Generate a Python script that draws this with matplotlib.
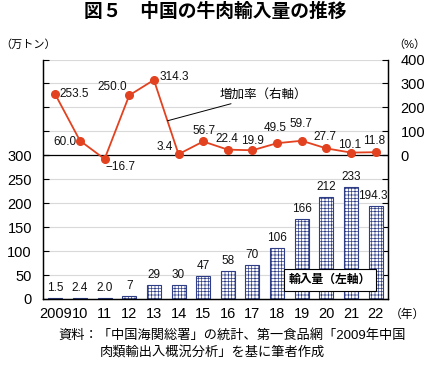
import matplotlib
matplotlib.use('Agg')
import matplotlib.pyplot as plt
import numpy as np

plt.rcParams['font.family'] = ['Liberation Sans', 'Noto Sans CJK JP']
plt.rcParams['hatch.linewidth'] = 0.5

# data
years = ['2009', '10', '11', '12', '13', '14', '15', '16', '17', '18', '19', '20', '21', '22']
imports = [1.5, 2.4, 2.0, 7, 29, 30, 47, 58, 70, 106, 166, 212, 233, 194.3]
import_labels = ['1.5', '2.4', '2.0', '7', '29', '30', '47', '58', '70', '106', '166', '212', '233', '194.3']
growth = [253.5, 60.0, -16.7, 250.0, 314.3, 3.4, 56.7, 22.4, 19.9, 49.5, 59.7, 27.7, 10.1, 11.8]
growth_labels = ['253.5', '60.0', '\u221216.7', '250.0', '314.3', '3.4', '56.7', '22.4', '19.9',
                 '49.5', '59.7', '27.7', '10.1', '11.8']
left_ticks = [0, 50, 100, 150, 200, 250, 300]
right_ticks = [0, 100, 200, 300, 400]

# label offsets in pixels (dx, dy, ha)
growth_offsets = [(4, 0, 'left'), (-3, -1, 'right'), (1, -8, 'left'), (-2, 8, 'right'),
                  (6, 3, 'left'), (-6, 7, 'right'), (1, 10, 'center'), (-1, 11, 'center'),
                  (0, 9, 'center'), (-2, 15, 'center'), (-1, 17, 'center'), (-1, 11, 'center'),
                  (-1, 8, 'center'), (-2, 11, 'center')]

W, H = 426, 368
fig = plt.figure(figsize=(W / 100, H / 100), dpi=100)
ax = fig.add_axes([43 / W, 1 - 299 / H, 345 / W, 239.5 / H])
ax2 = ax.twinx()

x = np.arange(len(years))
navy = '#2e3d86'
red = '#e2421f'
grid_c = '#d9d9d9'

ax.bar(x, imports, width=0.57, facecolor='white', edgecolor=navy, hatch='+++++', linewidth=0.8, zorder=2)
for xi, v, lab in zip(x, imports, import_labels):
    dx = -3 if lab == '194.3' else 0
    ax.annotate(lab, (xi, v), xytext=(dx, 4), textcoords='offset pixels',
                ha='center', va='bottom', fontsize=8.5, color='#111111')

ax.set_xlim(-0.5, len(years) - 0.5)
ax.set_ylim(0, 499)
ax.set_yticks(left_ticks)
ax.set_xticks(x)
ax.set_xticklabels(years)
for t in left_ticks[1:-1]:
    ax.axhline(t, color=grid_c, lw=0.8, zorder=0)

ax2.plot(x, growth, color=red, lw=1.3, marker='o', markersize=5.5, zorder=3)
for xi, v, lab, (dx, dy, ha) in zip(x, growth, growth_labels, growth_offsets):
    ax2.annotate(lab, (xi, v), xytext=(dx, dy), textcoords='offset pixels',
                 ha=ha, va='center', fontsize=8.5, color='#111111')
ax2.set_ylim(-603, 400)
ax2.set_yticks(right_ticks)
for t in right_ticks[1:]:
    ax2.axhline(t, color=grid_c, lw=0.8, zorder=0)
ax2.axhline(0, color='black', lw=0.9, zorder=1)

for a in (ax, ax2):
    a.spines['top'].set_visible(False)
    a.spines['left'].set_linewidth(0.9)
    a.spines['right'].set_linewidth(0.9)
    a.spines['bottom'].set_linewidth(0.9)
ax.tick_params(axis='y', direction='in', length=4, width=0.8, pad=8, labelsize=10.5, right=True)
ax.tick_params(axis='x', length=0, pad=6, labelsize=10.5)
ax2.tick_params(axis='y', direction='in', length=4, width=0.8, pad=9, labelsize=10.5, left=True)

# annotation for the line
t = 0.55
ax2.annotate('増加率（右軸）', xy=(4 + t, growth[4] + t * (growth[5] - growth[4])),
             xytext=(0.513, 0.852), textcoords=ax.transAxes, fontsize=9,
             ha='left', va='center',
             arrowprops=dict(arrowstyle='-', color='black', lw=0.7, shrinkA=0, shrinkB=0))

ax.text(0.832, 0.079, '輸入量（左軸）', transform=ax.transAxes, ha='center', va='center',
        fontsize=8.5, fontweight='bold', zorder=5,
        bbox=dict(boxstyle='square,pad=0.45', facecolor='white', edgecolor='black', lw=0.8))

fig.text(215 / W, 1 - 12 / H, '図５　中国の牛肉輸入量の推移', ha='center', va='center',
         fontsize=13.5, fontweight='bold')
fig.text(0 / W, 1 - 45 / H, '（万トン）', ha='left', va='center', fontsize=8)
fig.text(425 / W, 1 - 45 / H, '（%）', ha='right', va='center', fontsize=8)
fig.text(390 / W, 1 - 315 / H, '（年）', ha='left', va='center', fontsize=8.5)
fig.text(58 / W, 1 - 335 / H, '資料：「中国海関総署」の統計、第一食品網「2009年中国',
         ha='left', va='center', fontsize=9.5)
fig.text(100 / W, 1 - 352 / H, '肉類輸出入概況分析」を基に筆者作成',
         ha='left', va='center', fontsize=9.5)

fig.savefig('out.png', dpi=100)
